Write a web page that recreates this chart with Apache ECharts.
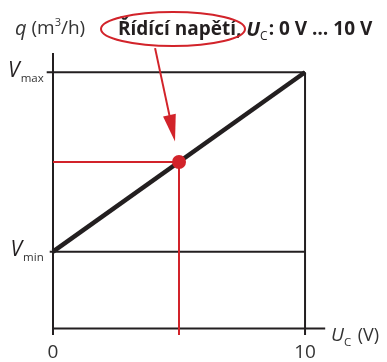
<!DOCTYPE html>
<html>
<head>
<meta charset="utf-8">
<script src="https://cdn.jsdelivr.net/npm/echarts@6/dist/echarts.min.js"></script>
<style>
  html, body { margin: 0; padding: 0; background: #fff; }
  #chart { width: 387px; height: 362px; }
</style>
</head>
<body>
<div id="chart"></div>
<script>
// Control voltage range U_C (V) and the flow it produces (V_min .. V_max)
const uRange = [0, 10];
const qRange = [3, 10];
// Operating point marked on the characteristic
const uPoint = [5];
const qPoint = [6.5];
// Axis ticks
const xTicks = [0, 10];
const yTicks = [3, 10];
const yTickSubs = ['min', 'max'];

const INK = '#231f20';
const RED = '#d2232a';
const FONT = 'Open Sans';
const X_MIN = -0.25, X_MAX = 10.8;
const Y_MIN = -0.25, Y_MAX = 10.75;

function lineSeries(points, color, width, z) {
  return {
    type: 'line', data: points, symbol: 'none', clip: false, silent: true,
    animation: false, z: z || 2,
    lineStyle: { color: color, width: width, cap: 'butt' }
  };
}

const u0 = uRange[0], u1 = uRange[1];
const q0 = qRange[0], q1 = qRange[1];
const up = uPoint[0], qp = qPoint[0];

// callout arrow from the caption ellipse down to the operating point
const arrowTail = [4.05, 10.94];
const arrowHead = [4.73, 7.81];

const chart = echarts.init(document.getElementById('chart'), null, { renderer: 'canvas' });

chart.setOption({
  animation: false,
  backgroundColor: '#fff',
  grid: { left: 46.7, right: 61.8, top: 53, bottom: 23.5, containLabel: false },
  xAxis: {
    type: 'value', min: X_MIN, max: X_MAX,
    axisLine: { show: false }, axisTick: { show: false }, splitLine: { show: false },
    axisLabel: {
      customValues: xTicks, margin: 8, fontFamily: FONT, fontSize: 19, color: '#333',
      formatter: v => String(v)
    }
  },
  yAxis: {
    type: 'value', min: Y_MIN, max: Y_MAX,
    axisLine: { show: false }, axisTick: { show: false }, splitLine: { show: false },
    axisLabel: {
      customValues: yTicks, margin: 3, fontFamily: FONT,
      formatter: v => '{v|V}{s|' + yTickSubs[yTicks.indexOf(v)] + '}',
      rich: {
        v: { fontSize: 21, fontStyle: 'italic', color: INK, fontFamily: FONT, lineHeight: 24, verticalAlign: 'top' },
        s: { fontSize: 11.5, color: '#333', fontFamily: FONT, lineHeight: 24, verticalAlign: 'bottom', padding: [0, 0, 0, 1] }
      }
    }
  },
  title: [
    {
      text: '{i|q} (m{sup|3}/h)', left: 10, top: 12,
      textStyle: {
        fontFamily: FONT, fontSize: 19, fontWeight: 'normal', color: '#333', lineHeight: 24,
        rich: {
          i: { fontFamily: FONT, fontSize: 20, fontStyle: 'italic', color: '#333', lineHeight: 24 },
          sup: { fontFamily: FONT, fontSize: 11, color: '#333', verticalAlign: 'top', lineHeight: 14 }
        }
      }
    },
    {
      text: 'Řídící napětí, {u|U}{sub|C}: 0 V … 10 V', left: 113, top: 12,
      textStyle: {
        fontFamily: FONT, fontSize: 19, fontWeight: 'bold', color: INK, lineHeight: 26,
        rich: {
          u: { fontFamily: FONT, fontSize: 20, fontWeight: 'bold', fontStyle: 'italic', color: INK, lineHeight: 26 },
          sub: { fontFamily: FONT, fontSize: 12, fontWeight: 'normal', color: INK, verticalAlign: 'bottom', lineHeight: 12, padding: [0, 1, 0, 0] }
        }
      }
    },
    {
      text: '{i|U}{sub|C} (V)', left: 326, top: 318,
      textStyle: {
        fontFamily: FONT, fontSize: 18, fontWeight: 'normal', color: '#333', lineHeight: 26,
        rich: {
          i: { fontFamily: FONT, fontSize: 19, fontStyle: 'italic', color: '#333', lineHeight: 26 },
          sub: { fontFamily: FONT, fontSize: 11.5, color: '#333', verticalAlign: 'bottom', lineHeight: 12, padding: [0, 2, 0, 0] }
        }
      }
    }
  ],
  graphic: [
    {
      type: 'ellipse', shape: { cx: 173, cy: 29, rx: 72, ry: 17 },
      style: { fill: 'none', stroke: RED, lineWidth: 2 }, z: 10
    }
  ],
  series: [
    // frame and axes
    lineSeries([[0, Y_MIN], [0, Y_MAX]], INK, 2),
    lineSeries([[0, 0], [X_MAX, 0]], INK, 2),
    lineSeries([[X_MIN, q1], [u1, q1]], INK, 2),
    lineSeries([[X_MIN + 0.12, q0], [u1, q0]], INK, 2),
    lineSeries([[u1, Y_MIN], [u1, q1]], INK, 2),
    // linear characteristic V_min -> V_max
    lineSeries([[u0, q0], [u1, q1]], INK, 4.5, 3),
    // projections of the operating point
    lineSeries([[0, qp], [up, qp]], RED, 2, 4),
    lineSeries([[up, qp], [up, Y_MIN]], RED, 2, 4),
    {
      type: 'scatter', data: [[up, qp]], symbol: 'circle', symbolSize: 14,
      itemStyle: { color: RED, opacity: 1 }, z: 5, silent: true, clip: false
    },
    // callout arrow
    lineSeries([arrowTail, arrowHead], RED, 2, 6),
    {
      type: 'scatter', data: [arrowHead], symbol: 'triangle', symbolSize: [13, 27],
      symbolRotate: 192, itemStyle: { color: RED, opacity: 1 }, z: 6, silent: true, clip: false
    }
  ]
});
</script>
</body>
</html>
